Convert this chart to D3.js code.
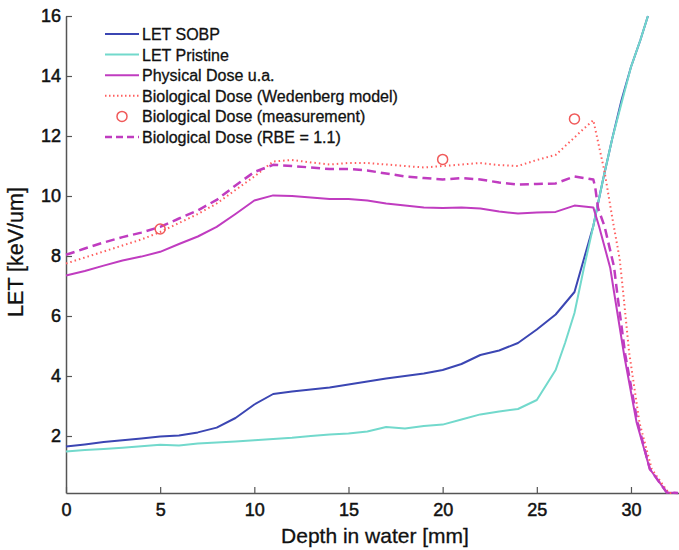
<!DOCTYPE html>
<html lang="en">
<head>
<meta charset="UTF-8">
<title>LET and dose vs depth</title>
<script src="https://d3js.org/d3.v7.min.js"></script>
<style>
  body { margin: 0; background: #fff; }
  text { font-family: "Liberation Sans", Arial, sans-serif; fill: #111; }
</style>
</head>
<body>
<div id="chart"></div>
<script>
// ---- data ----
var xTicks = [0, 5, 10, 15, 20, 25, 30];
var yTicks = [2, 4, 6, 8, 10, 12, 14, 16];

var sobpDepth = [0,1,2,3,4,5,6,7,8,9,10,11,12,13,14,15,16,17,18,19,20,21,22,23,24,25,26,27,28,28.5,29,29.5,30,30.5,30.9];
var sobpLET   = [1.65,1.72,1.8,1.86,1.92,1.98,2.02,2.12,2.28,2.6,3.05,3.4,3.48,3.55,3.62,3.72,3.82,3.92,4.0,4.08,4.2,4.4,4.7,4.85,5.1,5.55,6.05,6.8,9.0,10.5,11.9,13.2,14.3,15.2,16.0];

var pristineDepth = [0,1,2,3,4,5,6,7,8,9,10,11,12,13,14,15,16,17,18,19,20,21,22,23,24,25,26,26.5,27,27.5,28,28.5,29,29.5,30,30.5,30.9];
var pristineLET   = [1.48,1.53,1.57,1.61,1.66,1.71,1.68,1.75,1.78,1.82,1.86,1.9,1.94,2.0,2.05,2.08,2.15,2.3,2.25,2.33,2.38,2.55,2.72,2.82,2.9,3.2,4.2,5.1,6.1,7.6,9.0,10.5,11.9,13.1,14.3,15.2,16.0];

var physDepth = [0,1,2,3,4,5,6,7,8,9,10,11,12,13,14,15,16,17,18,19,20,21,22,23,24,25,26,27,28,28.3,28.9,29.1,29.65,30.3,31.0,31.9,32.5];
var physDose  = [7.35,7.5,7.68,7.85,7.98,8.14,8.4,8.65,8.97,9.4,9.85,10.02,10.0,9.95,9.9,9.9,9.85,9.75,9.68,9.62,9.6,9.62,9.58,9.48,9.42,9.45,9.47,9.68,9.62,9.0,7.6,6.8,4.65,2.45,0.9,0.12,0.1];

var wedDepth = [0,1,2,3,4,5,6,7,8,9,10,11,12,13,14,15,16,17,18,19,20,21,22,23,24,25,26,27,27.5,28,28.6,29.0,29.4,29.6,29.9,30.45,31.1,32.0,32.5];
var wedDose  = [7.75,7.95,8.15,8.35,8.55,8.8,9.1,9.4,9.75,10.2,10.65,11.15,11.2,11.12,11.05,11.1,11.1,11.05,11.0,10.95,11.0,11.05,11.1,11.03,11.0,11.2,11.37,11.95,12.25,12.53,10.8,9.3,7.9,6.7,4.8,2.45,0.9,0.1,0.1];

var measDepth = [5, 20, 27];
var measDose  = [8.9, 11.22, 12.57];

var rbeDepth = [0,1,2,3,4,5,6,7,8,9,10,11,12,13,14,15,16,17,18,19,20,21,22,23,24,25,26,27,28,28.1,28.25,28.6,29.1,29.3,29.7,30.35,31.0,31.9,32.5];
var rbeDose  = [8.04,8.25,8.45,8.63,8.78,8.97,9.25,9.52,9.87,10.35,10.8,11.04,11.0,10.95,10.9,10.9,10.85,10.75,10.65,10.6,10.55,10.6,10.55,10.45,10.38,10.4,10.42,10.65,10.55,10.3,9.6,8.98,7.64,6.6,4.7,2.45,0.9,0.12,0.1];

var legendLabels = ["LET SOBP", "LET Pristine", "Physical Dose u.a.",
  "Biological Dose (Wedenberg model)", "Biological Dose (measurement)", "Biological Dose (RBE = 1.1)"];

// ---- layout ----
var W = 679, H = 550;
var margin = {top: 16, right: 0, bottom: 57, left: 66};
var width = W - margin.left - margin.right,
    height = H - margin.top - margin.bottom;

var svg = d3.select("#chart").append("svg")
    .attr("width", W).attr("height", H);
var g = svg.append("g")
    .attr("transform", "translate(" + margin.left + "," + margin.top + ")");

var x = d3.scaleLinear().domain([0, 32.55]).range([0, width]);
var y = d3.scaleLinear().domain([0.1, 16]).range([height, 0]);

// axes: ticks inside, no box
var axisColor = "#555";
var xAxis = g.append("g")
    .attr("transform", "translate(0," + height + ")")
    .call(d3.axisBottom(x).tickValues(xTicks).tickSizeInner(-6).tickSizeOuter(0).tickPadding(10));
var yAxis = g.append("g")
    .call(d3.axisLeft(y).tickValues(yTicks).tickSizeInner(-6).tickSizeOuter(0).tickPadding(5));
[xAxis, yAxis].forEach(function(a) {
  a.select(".domain").attr("stroke", axisColor).attr("stroke-width", 1.5);
  a.selectAll(".tick line").attr("stroke", axisColor).attr("stroke-width", 1.2);
  a.selectAll(".tick text").attr("font-size", 18).attr("fill", "#111")
    .attr("stroke", "#111").attr("stroke-width", 0.5)
    .attr("font-family", "Liberation Sans, Arial, sans-serif");
});

// axis labels
svg.append("text")
    .attr("x", 375).attr("y", 543)
    .attr("text-anchor", "middle")
    .attr("font-size", 21)
    .attr("stroke", "#111").attr("stroke-width", 0.3)
    .text("Depth in water [mm]");
svg.append("text")
    .attr("transform", "translate(23,252) rotate(-90)")
    .attr("text-anchor", "middle")
    .attr("font-size", 21.5)
    .attr("stroke", "#111").attr("stroke-width", 0.3)
    .text("LET [keV/um]");

// series
function pairs(xs, ys) { return xs.map(function(d, i) { return [d, ys[i]]; }); }
var line = d3.line().x(function(d) { return x(d[0]); }).y(function(d) { return y(d[1]); });

var series = [
  {data: pairs(sobpDepth, sobpLET), color: "#3b46b3", width: 2, dash: null},
  {data: pairs(pristineDepth, pristineLET), color: "#72d9cc", width: 2, dash: null},
  {data: pairs(physDepth, physDose), color: "#c03cc0", width: 2, dash: null},
  {data: pairs(wedDepth, wedDose), color: "#ff5f5f", width: 2, dash: "1.5,3"},
  {data: pairs(rbeDepth, rbeDose), color: "#c03cc0", width: 2.5, dash: "9,5"}
];

series.forEach(function(s) {
  g.append("path")
    .datum(s.data)
    .attr("fill", "none")
    .attr("stroke", s.color)
    .attr("stroke-width", s.width)
    .attr("stroke-dasharray", s.dash)
    .attr("stroke-linejoin", "round")
    .attr("d", line);
});

g.append("g").selectAll("circle")
  .data(pairs(measDepth, measDose))
  .enter().append("circle")
    .attr("cx", function(d) { return x(d[0]); })
    .attr("cy", function(d) { return y(d[1]); })
    .attr("r", 5)
    .attr("fill", "none")
    .attr("stroke", "#f05a5a")
    .attr("stroke-width", 1.5);

// legend
var legend = svg.append("g").attr("transform", "translate(105,34)");
var legendStyle = [
  {color: "#3b46b3", dash: null, w: 2},
  {color: "#72d9cc", dash: null, w: 2},
  {color: "#c03cc0", dash: null, w: 2},
  {color: "#ff5f5f", dash: "1.5,2.5", w: 2},
  {color: "#f05a5a", circle: true},
  {color: "#c03cc0", dash: "7,4", w: 2.5}
];
legendLabels.forEach(function(lbl, i) {
  var row = legend.append("g").attr("transform", "translate(0," + (i * 20.6) + ")");
  var st = legendStyle[i];
  if (st.circle) {
    row.append("circle").attr("cx", 17).attr("cy", 0).attr("r", 5)
      .attr("fill", "none").attr("stroke", st.color).attr("stroke-width", 1.5);
  } else {
    row.append("line").attr("x1", 0).attr("x2", 34).attr("y1", 0).attr("y2", 0)
      .attr("stroke", st.color).attr("stroke-width", st.w)
      .attr("stroke-dasharray", st.dash);
  }
  row.append("text").attr("x", 37).attr("y", 6)
    .attr("font-size", 16)
    .attr("stroke", "#111").attr("stroke-width", 0.3)
    .text(lbl);
});
</script>
</body>
</html>
